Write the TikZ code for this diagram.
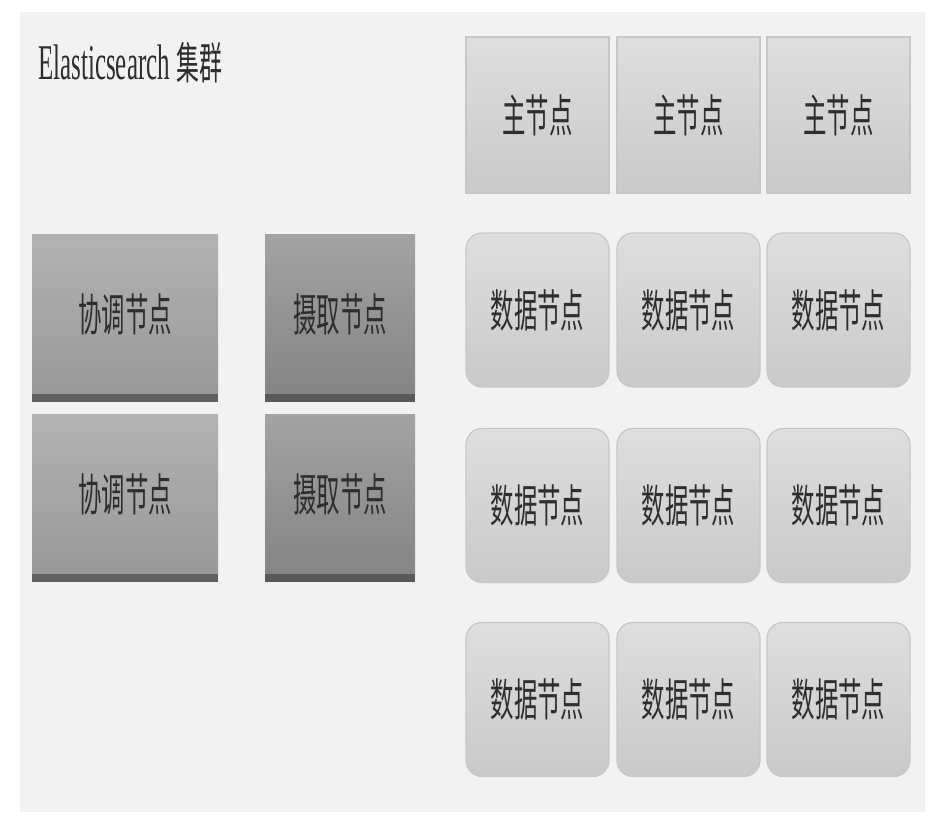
\documentclass[tikz,border=0pt]{standalone}
\usepackage{fontspec}
\newfontfamily\cjk[FakeStretch=0.52]{Noto Sans CJK SC}
\newfontfamily\latinfont[FakeStretch=0.5]{Liberation Serif}
\definecolor{fond}{HTML}{F2F2F2}
\definecolor{texte}{HTML}{2E2E2E}
\tikzset{
  noeud/.style={inner sep=0pt, text=texte, font=\cjk\fontsize{45}{50}\selectfont},
  maitre/.style={noeud, rectangle, draw=black!22, line width=1.2pt,
    top color=black!13, bottom color=black!21,
    minimum width=143pt, minimum height=156pt},
  donnee/.style={maitre, rounded corners=16pt, minimum height=154pt},
  coord/.style={noeud, rectangle, top color=black!30, bottom color=black!40,
    minimum width=186pt, minimum height=160pt},
  ingest/.style={coord, top color=black!36, bottom color=black!48,
    minimum width=150pt}
}
\begin{document}
\begin{tikzpicture}[x=1pt, y=-1pt]
    \useasboundingbox (0,0) rectangle (930,823);
    % Fond
    \fill[fond] (20,12) rectangle (925,812);

    % Titre
    \node[anchor=base west, inner sep=0pt, text=texte] (titre) at (38,79)
    {\latinfont\fontsize{50}{55}\selectfont Elasticsearch
     \cjk\fontsize{44}{50}\selectfont 集群};

    % Noeuds maitres
    \foreach \c/\x in {1/537.5, 2/688.5, 3/838.5} {
      \node[maitre] (maitre\c) at (\x,115) {主节点};
    }
    % Noeuds de donnees
    \foreach \r/\y in {1/310, 2/505.5, 3/699.5} {
      \foreach \c/\x in {1/537.5, 2/688.5, 3/838.5} {
        \node[donnee] (donnee\r\c) at (\x,\y) {数据节点};
      }
    }

    % Coordination et ingestion
    \foreach \r/\y in {1/314, 2/494} {
      \node[coord] (coord\r) at (125,\y) {协调节点};
      \node[ingest] (ingest\r) at (340,\y) {摄取节点};
      \fill[black!62] ([yshift=-8pt]coord\r.south west) rectangle (coord\r.south east);
      \fill[black!60!red!3!black!66] ([yshift=-8pt]ingest\r.south west) rectangle (ingest\r.south east);
    }
  \end{tikzpicture}
\end{document}
